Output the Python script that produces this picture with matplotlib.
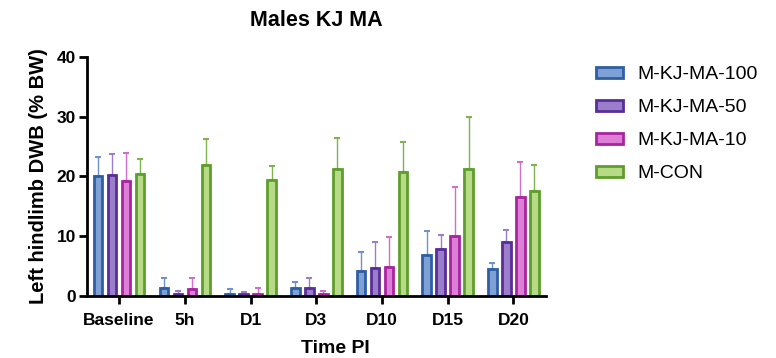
import matplotlib
matplotlib.use("Agg")
import matplotlib.pyplot as plt
import numpy as np

plt.rcParams['font.family'] = ['Liberation Sans', 'DejaVu Sans']

categories = ["Baseline", "5h", "D1", "D3", "D10", "D15", "D20"]
series_names = ["M-KJ-MA-100", "M-KJ-MA-50", "M-KJ-MA-10", "M-CON"]
means_100 = [20.1, 1.3, 0.3, 1.3, 4.2, 6.8, 4.6]
means_50 = [20.2, 0.3, 0.3, 1.3, 4.7, 7.9, 9.1]
means_10 = [19.3, 1.2, 0.4, 0.3, 4.8, 10.0, 16.5]
means_con = [20.5, 22.0, 19.4, 21.3, 20.7, 21.2, 17.6]
err_100 = [3.2, 1.7, 0.9, 1.1, 3.2, 4.1, 0.9]
err_50 = [3.6, 0.6, 0.3, 1.7, 4.3, 2.3, 1.9]
err_10 = [4.7, 1.8, 0.9, 0.5, 5.0, 8.2, 5.9]
err_con = [2.5, 4.3, 2.4, 5.2, 5.0, 8.8, 4.3]

means = [means_100, means_50, means_10, means_con]
errs = [err_100, err_50, err_10, err_con]
edge_colors = ["#2F5FA3", "#5A2E96", "#A8259F", "#5E9E2C"]
fill_colors = ["#7FA0D4", "#9A7DCB", "#DD7FD6", "#B6DA86"]
err_colors = ["#6E92CC", "#9A7DCB", "#CF6FCB", "#7FB34F"]

fig = plt.figure(figsize=(7.76, 3.58), dpi=100)
ax = fig.add_axes([0.112, 0.173, 0.592, 0.668])

x = np.arange(len(categories))
offsets = [-0.32, -0.107, 0.107, 0.32]
width = 0.13
for i in range(4):
    ax.bar(x + offsets[i], means[i], width=width, color=fill_colors[i],
           edgecolor=edge_colors[i], linewidth=2.0, label=series_names[i], zorder=2)
    ax.errorbar(x + offsets[i], means[i], yerr=[np.zeros(len(x)), errs[i]],
                fmt='none', ecolor=err_colors[i], elinewidth=1.0, capsize=2.0,
                capthick=1.5, zorder=1)

ax.set_xlim(-0.49, 6.5)
ax.set_ylim(0, 40)
ax.set_yticks([0, 10, 20, 30, 40])
ax.set_xticks(x)
ax.set_xticklabels(categories, fontweight='bold', fontsize=12.5)
for lbl in ax.get_yticklabels():
    lbl.set_fontweight('bold')
    lbl.set_fontsize(12.5)
ax.spines['top'].set_visible(False)
ax.spines['right'].set_visible(False)
ax.spines['left'].set_linewidth(2)
ax.spines['bottom'].set_linewidth(2)
ax.tick_params(axis='both', width=2, length=6, direction='out', pad=2)
ax.tick_params(axis='x', pad=6)
ax.set_ylabel("Left hindlimb DWB (% BW)", fontweight='bold', fontsize=14.5, labelpad=6)
ax.set_xlabel("Time PI", fontweight='bold', fontsize=14, labelpad=8)
ax.xaxis.set_label_coords(0.54, -0.185)
fig.text(0.408, 1 - 20 / 358, "Males KJ MA", fontweight='bold', fontsize=15.5,
         ha='center', va='center')

fig.legend(loc='upper left', bbox_to_anchor=(0.768, 0.815), frameon=False,
           fontsize=14, handlelength=1.4, handleheight=0.5, labelspacing=0.82,
           handletextpad=0.75, borderpad=0, borderaxespad=0)

fig.savefig("out.png", dpi=100)
